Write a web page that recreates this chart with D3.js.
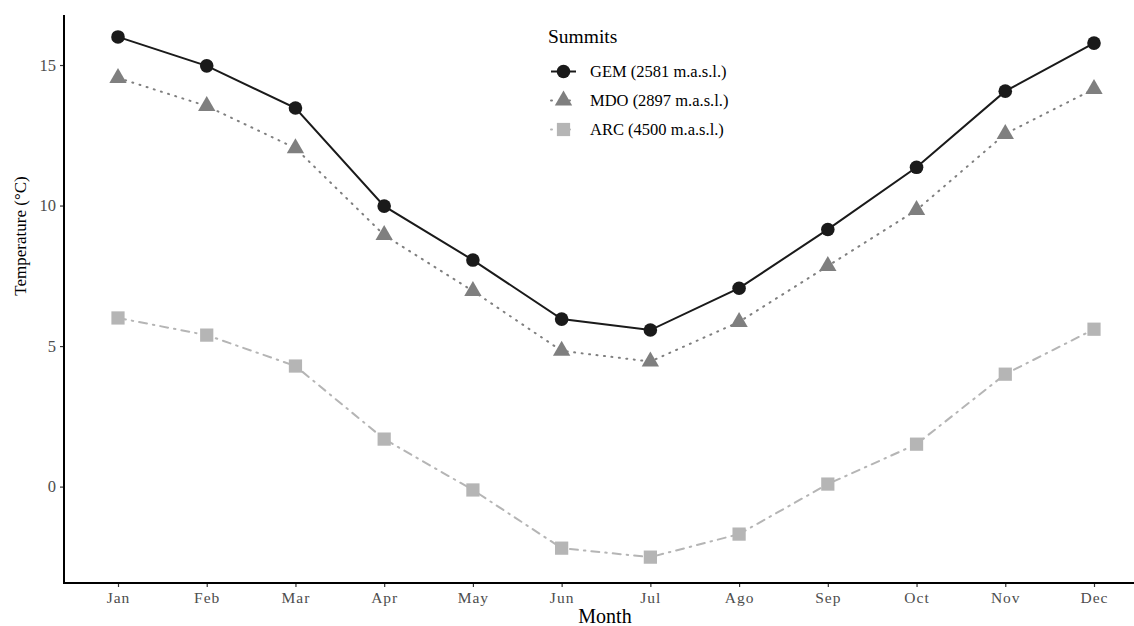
<!DOCTYPE html>
<html>
<head>
<meta charset="utf-8">
<script src="https://cdn.jsdelivr.net/npm/d3@7"></script>
<style>
  body { margin: 0; background: #fff; }
  svg text { font-family: "Liberation Serif", "Times New Roman", serif; }
</style>
</head>
<body>
<div id="chart"></div>
<script>
// data
const months = ["Jan", "Feb", "Mar", "Apr", "May", "Jun", "Jul", "Ago", "Sep", "Oct", "Nov", "Dec"];
const gem = [16.0, 14.97, 13.47, 9.98, 8.06, 5.96, 5.57, 7.06, 9.15, 11.36, 14.07, 15.78];
const mdo = [14.54, 13.54, 12.04, 8.95, 6.96, 4.83, 4.45, 5.86, 7.85, 9.84, 12.55, 14.15];
const arc = [6.0, 5.39, 4.29, 1.69, -0.12, -2.19, -2.51, -1.69, 0.09, 1.51, 4.0, 5.6];
const yTicks = [0, 5, 10, 15];

const series = [
    {name: "GEM (2581 m.a.s.l.)", values: gem, color: "#1a1a1a", dash: null, shape: d3.symbolCircle, size: 145},
    {name: "MDO (2897 m.a.s.l.)", values: mdo, color: "#7f7f7f", dash: "1,6.5", shape: d3.symbolTriangle, size: 130},
    {name: "ARC (4500 m.a.s.l.)", values: arc, color: "#b5b5b5", dash: "8,6,1.5,6", shape: d3.symbolSquare, size: 175}
];

const width = 1134, height = 626;
const margin = {left: 64, bottom: 583, top: 15, right: 1134};

const svg = d3.select("#chart").append("svg")
    .attr("width", width)
    .attr("height", height);

const x = d3.scalePoint()
    .domain(months)
    .range([118, 1094]);

const y = d3.scaleLinear()
    .domain([-3.43, 16.78])
    .range([margin.bottom, margin.top]);

// axes
const xAxis = svg.append("g")
    .attr("transform", "translate(0," + margin.bottom + ")")
    .call(d3.axisBottom(x).tickSize(4).tickPadding(5));
xAxis.select(".domain").remove();
xAxis.selectAll("line").attr("stroke", "#333").attr("stroke-width", 1.2);
xAxis.selectAll("text").attr("font-size", 15.5).attr("fill", "#4d4d4d")
    .style("letter-spacing", "1px");

const yAxis = svg.append("g")
    .attr("transform", "translate(" + margin.left + ",0)")
    .call(d3.axisLeft(y).tickValues(yTicks).tickSize(4).tickPadding(4));
yAxis.select(".domain").remove();
yAxis.selectAll("line").attr("stroke", "#333").attr("stroke-width", 1.2);
yAxis.selectAll("text").attr("font-size", 16.5).attr("fill", "#4d4d4d");

svg.append("line")
    .attr("x1", margin.left).attr("x2", margin.left)
    .attr("y1", margin.top).attr("y2", margin.bottom + 1)
    .attr("stroke", "#000").attr("stroke-width", 2);
svg.append("line")
    .attr("x1", margin.left - 1).attr("x2", margin.right)
    .attr("y1", margin.bottom).attr("y2", margin.bottom)
    .attr("stroke", "#000").attr("stroke-width", 2);

// axis titles
svg.append("text")
    .attr("x", 605)
    .attr("y", 623)
    .attr("text-anchor", "middle")
    .attr("font-size", 20)
    .text("Month");

svg.append("text")
    .attr("transform", "translate(26,236) rotate(-90)")
    .attr("text-anchor", "middle")
    .attr("font-size", 17)
    .text("Temperature (°C)");

// lines + points
const line = d3.line()
    .x((d, i) => x(months[i]))
    .y(d => y(d));

series.slice().reverse().forEach(s => {
    svg.append("path")
        .datum(s.values)
        .attr("d", line)
        .attr("fill", "none")
        .attr("stroke", s.color)
        .attr("stroke-width", 2)
        .attr("stroke-linecap", s.dash ? "round" : "butt")
        .attr("stroke-dasharray", s.dash);

    svg.selectAll(null)
        .data(s.values)
        .enter()
        .append("path")
        .attr("d", d3.symbol().type(s.shape).size(s.size))
        .attr("transform", (d, i) => "translate(" + x(months[i]) + "," + y(d) + ")")
        .attr("fill", s.color);
});

// legend
const legend = svg.append("g").attr("transform", "translate(548,0)");
legend.append("text")
    .attr("x", 0).attr("y", 43)
    .attr("font-size", 19.5)
    .text("Summits");

series.forEach((s, i) => {
    const ly = 71.5 + i * 29;
    legend.append("line")
        .attr("x1", 3).attr("x2", 28)
        .attr("y1", ly).attr("y2", ly)
        .attr("stroke", s.color)
        .attr("stroke-width", 2)
        .attr("stroke-linecap", s.dash ? "round" : "butt")
        .attr("stroke-dasharray", s.dash ? "1,8" : null);
    legend.append("path")
        .attr("d", d3.symbol().type(s.shape).size(s.size))
        .attr("transform", "translate(15.5," + ly + ")")
        .attr("fill", s.color);
    legend.append("text")
        .attr("x", 42).attr("y", ly + 5.5)
        .attr("font-size", 16.5)
        .text(s.name);
});
</script>
</body>
</html>
